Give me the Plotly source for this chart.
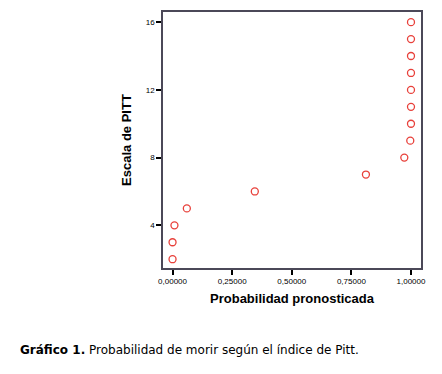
import plotly.graph_objects as go

prob = [0.0, 0.0, 0.008, 0.060, 0.345, 0.811, 0.972, 0.997, 1.0, 1.0, 1.0, 1.0, 1.0, 1.0, 1.0]
pitt = [2, 3, 4, 5, 6, 7, 8, 9, 10, 11, 12, 13, 14, 15, 16]
xticks = [0.0, 0.25, 0.5, 0.75, 1.0]
xticklabels = ["0,00000", "0,25000", "0,50000", "0,75000", "1,00000"]
yticks = [4, 8, 12, 16]

W, H = 434, 366
L, R, T, B = 155, 21, 2, 106

fig = go.Figure()
fig.add_trace(go.Scatter(
    x=prob, y=pitt, mode="markers",
    marker=dict(symbol="circle-open", size=7, color="#e8403a", line=dict(width=1.3)),
    showlegend=False,
))

pw = W - L - R
ph = H - T - B

fig.update_layout(
    width=W, height=H,
    margin=dict(l=L, r=R, t=T, b=B),
    paper_bgcolor="white", plot_bgcolor="white",
    font=dict(family="Arial, Liberation Sans, sans-serif", color="black"),
    xaxis=dict(
        range=[-0.040, 1.042], tickvals=xticks, ticktext=xticklabels,
        showgrid=False, zeroline=False, showline=True, mirror=True,
        linecolor="#4b4858", linewidth=1.5,
        ticks="outside", ticklen=5, tickwidth=1.5, tickcolor="black",
        tickfont=dict(size=8),
        title=dict(text="<b>Probabilidad pronosticada</b>", font=dict(size=13), standoff=9),
    ),
    yaxis=dict(
        range=[1.48, 16.6], tickvals=yticks,
        showgrid=False, zeroline=False, showline=True, mirror=True,
        linecolor="#4b4858", linewidth=1.5,
        ticks="outside", ticklen=5, tickwidth=1.5, tickcolor="black",
        tickfont=dict(size=8),
        title=dict(text="<b>Escala de PITT</b>", font=dict(size=13), standoff=11),
    ),
    annotations=[dict(
        x=(10 - L) / pw, y=(H - B - 343) / ph, xref="paper", yref="paper", showarrow=False,
        text="<b>Gráfico 1.</b> Probabilidad de morir según el índice de Pitt.",
        font=dict(family="Verdana, DejaVu Sans, sans-serif", size=12, color="black"),
        xanchor="left", yanchor="middle",
    )],
)

fig.write_html("out.html")
